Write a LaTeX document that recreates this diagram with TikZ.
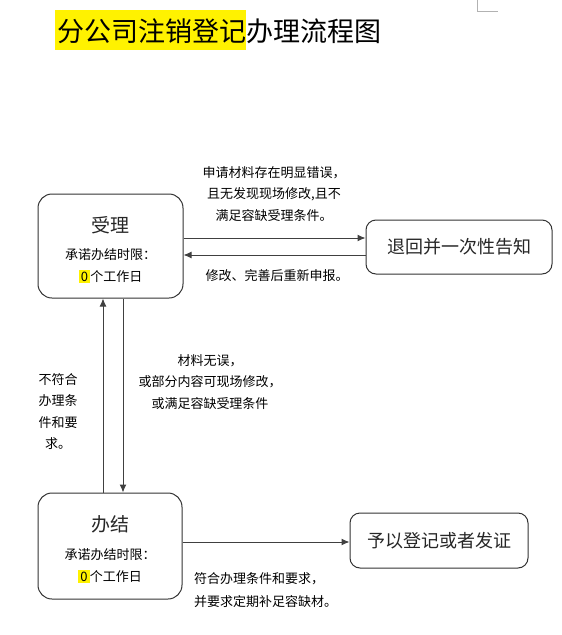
\documentclass[tikz,border=0pt]{standalone}
\usepackage{fontspec}
\setmainfont{Noto Sans CJK SC}
\usetikzlibrary{arrows.meta}
\newcommand{\hlzero}{{\setlength{\fboxsep}{0pt}\colorbox{yellow}{\rule[-2pt]{0pt}{13pt}\,0\,}}}
\begin{document}
\begin{tikzpicture}[x=1pt,y=-1pt,
  bigbox/.style={draw=black!80, line width=1pt, rounded corners=14pt, inner sep=0pt},
  smallbox/.style={draw=black!80, line width=1pt, rounded corners=10pt, inner sep=0pt, font=\fontsize{18}{20}\selectfont, text=black!85},
  arr/.style={draw=black!75, line width=1pt, -{Latex[length=8pt,width=7pt]}},
  lbl/.style={font=\fontsize{13}{21.5}\selectfont, align=center, inner sep=0pt},
  boxtitle/.style={font=\fontsize{19}{21}\selectfont, inner sep=0pt, text=black!85},
  boxsub/.style={font=\fontsize{13}{22}\selectfont, inner sep=0pt, align=center},
]
\useasboundingbox (0,0) rectangle (562,635);
% corner mark
\draw[black!30, line width=0.6pt] (477,0) -- (477,11) -- (498,11);
% title
\fill[yellow] (55,10) rectangle (246,50);
\node[anchor=west, inner sep=0pt, font=\fontsize{27}{30}\selectfont] (title) at (57,31) {分公司注销登记办理流程图};

% boxes
\node[bigbox, minimum width=145pt, minimum height=104pt] (sl) at (110.5,246) {};
\node[boxtitle] (slt) at (110.5,225) {受理};
\node[boxsub] (sls) at (110.5,266) {承诺办结时限：\\\hlzero 个工作日};

\node[smallbox, minimum width=186pt, minimum height=54pt] (th) at (459,247) {退回并一次性告知};

\node[bigbox, minimum width=144pt, minimum height=106pt] (bj) at (110,546) {};
\node[boxtitle] (bjt) at (110,524) {办结};
\node[boxsub] (bjs) at (110,566) {承诺办结时限：\\\hlzero 个工作日};

\node[smallbox, minimum width=178pt, minimum height=55pt] (yd) at (439,540.5) {予以登记或者发证};

% connectors
\coordinate (ya) at (0,238);
\coordinate (yb) at (0,255);
\coordinate (xu) at (103,0);
\coordinate (xd) at (123,0);
\coordinate (yc) at (0,542);
\draw[arr] (sl.east |- ya) -- (th.west |- ya);
\draw[arr] (th.west |- yb) -- (sl.east |- yb);
\draw[arr] (xu |- bj.north) -- (xu |- sl.south);
\draw[arr] (xd |- sl.south) -- (xd |- bj.north);
\draw[arr] (bj.east |- yc) -- (yd.west |- yc);

% labels
\node[lbl] (l1) at (274,194) {申请材料存在明显错误，\\且无发现现场修改,且不\\满足容缺受理条件。};
\node[lbl] (l2) at (277,276) {修改、完善后重新申报。};
\node[lbl] (l3) at (58,411.5) {不符合\\办理条\\件和要\\求。};
\node[lbl] (l4) at (210,382) {材料无误，\\或部分内容可现场修改，\\或满足容缺受理条件};
\node[lbl, align=left, anchor=west, font=\fontsize{13}{23}\selectfont] (l5) at (194,590.5) {符合办理条件和要求，\\并要求定期补足容缺材。};
\end{tikzpicture}
\end{document}
